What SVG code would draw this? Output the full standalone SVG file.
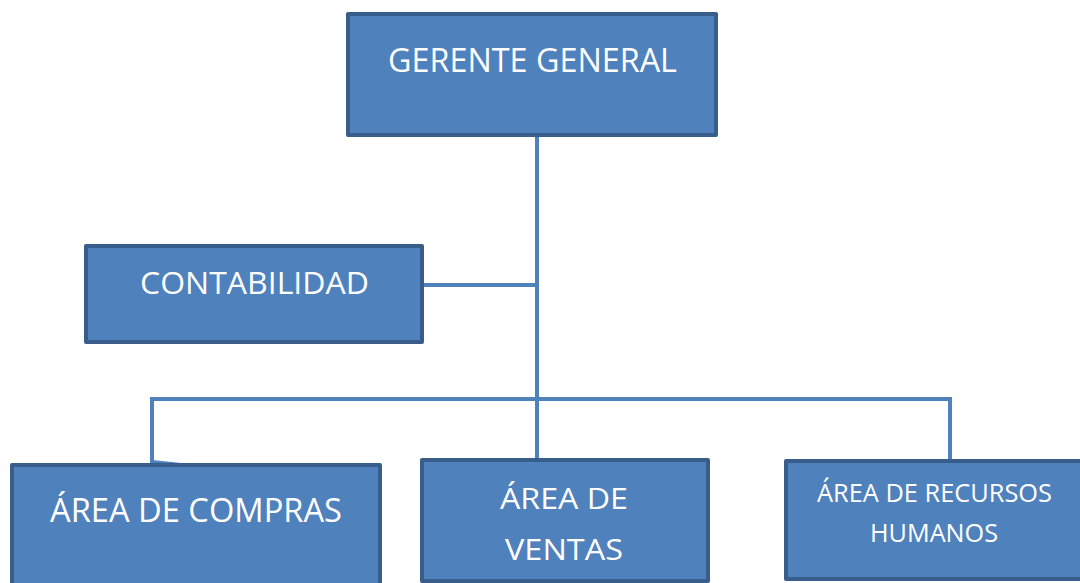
<svg xmlns="http://www.w3.org/2000/svg" width="1080" height="583" viewBox="0 0 1080 583">
<style>
.box{fill:#4F81BD;stroke:#385D8A;stroke-width:4;stroke-linejoin:round}
.t{fill:#ffffff;font-family:"Open Sans","Liberation Sans",sans-serif;text-anchor:middle}
.ln{fill:none;stroke:#4F81BD;stroke-width:4}
</style>
<rect width="1080" height="583" fill="#ffffff"/>
<g id="connectors">
<line class="ln" x1="537" y1="137" x2="537" y2="460"/>
<line class="ln" x1="424" y1="285" x2="537" y2="285"/>
<polyline class="ln" points="181,465 152,462 152,399 950,399 950,460"/>
</g>
<g id="gerente">
<rect class="box" x="348" y="14" width="368" height="121"/>
<text class="t" x="532.5" y="72" font-size="33" textLength="289" lengthAdjust="spacingAndGlyphs">GERENTE GENERAL</text>
</g>
<g id="contabilidad">
<rect class="box" x="86" y="246" width="336" height="96"/>
<text class="t" x="254.5" y="294" font-size="31" textLength="229" lengthAdjust="spacingAndGlyphs">CONTABILIDAD</text>
</g>
<g id="compras">
<rect class="box" x="12" y="465" width="368" height="130"/>
<text class="t" x="196" y="522" font-size="33" textLength="292" lengthAdjust="spacingAndGlyphs">ÁREA DE COMPRAS</text>
</g>
<g id="ventas">
<rect class="box" x="422" y="460" width="286" height="121"/>
<text class="t" x="564" y="509" font-size="30" textLength="128" lengthAdjust="spacingAndGlyphs">ÁREA DE</text>
<text class="t" x="564" y="560" font-size="30" textLength="118" lengthAdjust="spacingAndGlyphs">VENTAS</text>
</g>
<g id="rrhh">
<rect class="box" x="786" y="461" width="296" height="118"/>
<text class="t" x="934.5" y="502" font-size="25" textLength="235" lengthAdjust="spacingAndGlyphs">ÁREA DE RECURSOS</text>
<text class="t" x="934" y="542" font-size="25" textLength="128" lengthAdjust="spacingAndGlyphs">HUMANOS</text>
</g>
</svg>
